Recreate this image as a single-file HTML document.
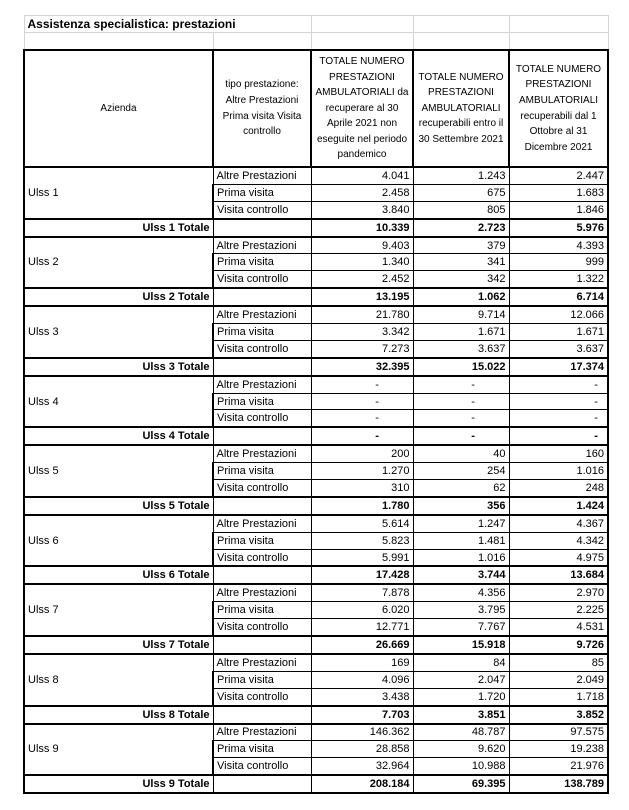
<!DOCTYPE html>
<html><head><meta charset="utf-8"><style>
body{margin:0;background:#fff;width:629px;height:810px;overflow:hidden;font-family:"Liberation Sans",Arial,sans-serif;}
table{position:absolute;left:23px;top:15px;border-collapse:collapse;table-layout:fixed;}
td{padding:0 3px;font-size:11px;line-height:12px;white-space:nowrap;overflow:hidden;border:1px solid #000;height:15.9px;}
td.n{text-align:right;}
tr.g td{border:1px solid #d4d4d4;height:16px;}
tr.h td{text-align:center;white-space:normal;font-size:10px;line-height:15.6px;border:2px solid #000;height:115px;padding:0 1px;}
tr.t td{font-weight:bold;border-top:2px solid #000;border-bottom:2px solid #000;}
tr:not(.g) td:first-child{border-left:2px solid #000;}
tr:not(.g) td:last-child{border-right:2px solid #000;}
tr:last-child td{border-bottom:2px solid #000;}
td.a{vertical-align:middle;}
td.tt{text-align:right;}
</style></head><body>
<table>
<colgroup><col style="width:189px"><col style="width:98px"><col style="width:102px"><col style="width:96px"><col style="width:99px"></colgroup>
<tr class="g"><td style="font-weight:bold;font-size:12px;" colspan="2">Assistenza specialistica: prestazioni</td><td></td><td></td><td></td></tr>
<tr class="g"><td style="height:13px"></td><td style="height:13px"></td><td></td><td></td><td></td></tr>
<tr class="h"><td>Azienda</td><td>tipo prestazione: Altre Prestazioni Prima visita Visita controllo</td><td>TOTALE NUMERO PRESTAZIONI AMBULATORIALI da recuperare al 30 Aprile 2021 non eseguite nel periodo pandemico</td><td>TOTALE NUMERO PRESTAZIONI AMBULATORIALI recuperabili entro il 30 Settembre 2021</td><td>TOTALE NUMERO PRESTAZIONI AMBULATORIALI recuperabili dal 1 Ottobre al 31 Dicembre 2021</td></tr>
<tr><td class="a" rowspan="3">Ulss 1</td><td>Altre Prestazioni</td><td class="n">4.041</td><td class="n">1.243</td><td class="n">2.447</td></tr>
<tr><td>Prima visita</td><td class="n">2.458</td><td class="n">675</td><td class="n">1.683</td></tr>
<tr><td>Visita controllo</td><td class="n">3.840</td><td class="n">805</td><td class="n">1.846</td></tr>
<tr class="t"><td class="tt">Ulss 1 Totale</td><td></td><td class="n">10.339</td><td class="n">2.723</td><td class="n">5.976</td></tr>
<tr><td class="a" rowspan="3">Ulss 2</td><td>Altre Prestazioni</td><td class="n">9.403</td><td class="n">379</td><td class="n">4.393</td></tr>
<tr><td>Prima visita</td><td class="n">1.340</td><td class="n">341</td><td class="n">999</td></tr>
<tr><td>Visita controllo</td><td class="n">2.452</td><td class="n">342</td><td class="n">1.322</td></tr>
<tr class="t"><td class="tt">Ulss 2 Totale</td><td></td><td class="n">13.195</td><td class="n">1.062</td><td class="n">6.714</td></tr>
<tr><td class="a" rowspan="3">Ulss 3</td><td>Altre Prestazioni</td><td class="n">21.780</td><td class="n">9.714</td><td class="n">12.066</td></tr>
<tr><td>Prima visita</td><td class="n">3.342</td><td class="n">1.671</td><td class="n">1.671</td></tr>
<tr><td>Visita controllo</td><td class="n">7.273</td><td class="n">3.637</td><td class="n">3.637</td></tr>
<tr class="t"><td class="tt">Ulss 3 Totale</td><td></td><td class="n">32.395</td><td class="n">15.022</td><td class="n">17.374</td></tr>
<tr><td class="a" rowspan="3">Ulss 4</td><td>Altre Prestazioni</td><td class="n">-&nbsp;&nbsp;&nbsp;&nbsp;&nbsp;&nbsp;&nbsp;&nbsp;&nbsp;&nbsp;</td><td class="n">-&nbsp;&nbsp;&nbsp;&nbsp;&nbsp;&nbsp;&nbsp;&nbsp;&nbsp;&nbsp;</td><td class="n">-&nbsp;&nbsp;</td></tr>
<tr><td>Prima visita</td><td class="n">-&nbsp;&nbsp;&nbsp;&nbsp;&nbsp;&nbsp;&nbsp;&nbsp;&nbsp;&nbsp;</td><td class="n">-&nbsp;&nbsp;&nbsp;&nbsp;&nbsp;&nbsp;&nbsp;&nbsp;&nbsp;&nbsp;</td><td class="n">-&nbsp;&nbsp;</td></tr>
<tr><td>Visita controllo</td><td class="n">-&nbsp;&nbsp;&nbsp;&nbsp;&nbsp;&nbsp;&nbsp;&nbsp;&nbsp;&nbsp;</td><td class="n">-&nbsp;&nbsp;&nbsp;&nbsp;&nbsp;&nbsp;&nbsp;&nbsp;&nbsp;&nbsp;</td><td class="n">-&nbsp;&nbsp;</td></tr>
<tr class="t"><td class="tt">Ulss 4 Totale</td><td></td><td class="n">-&nbsp;&nbsp;&nbsp;&nbsp;&nbsp;&nbsp;&nbsp;&nbsp;&nbsp;&nbsp;</td><td class="n">-&nbsp;&nbsp;&nbsp;&nbsp;&nbsp;&nbsp;&nbsp;&nbsp;&nbsp;&nbsp;</td><td class="n">-&nbsp;&nbsp;</td></tr>
<tr><td class="a" rowspan="3">Ulss 5</td><td>Altre Prestazioni</td><td class="n">200</td><td class="n">40</td><td class="n">160</td></tr>
<tr><td>Prima visita</td><td class="n">1.270</td><td class="n">254</td><td class="n">1.016</td></tr>
<tr><td>Visita controllo</td><td class="n">310</td><td class="n">62</td><td class="n">248</td></tr>
<tr class="t"><td class="tt">Ulss 5 Totale</td><td></td><td class="n">1.780</td><td class="n">356</td><td class="n">1.424</td></tr>
<tr><td class="a" rowspan="3">Ulss 6</td><td>Altre Prestazioni</td><td class="n">5.614</td><td class="n">1.247</td><td class="n">4.367</td></tr>
<tr><td>Prima visita</td><td class="n">5.823</td><td class="n">1.481</td><td class="n">4.342</td></tr>
<tr><td>Visita controllo</td><td class="n">5.991</td><td class="n">1.016</td><td class="n">4.975</td></tr>
<tr class="t"><td class="tt">Ulss 6 Totale</td><td></td><td class="n">17.428</td><td class="n">3.744</td><td class="n">13.684</td></tr>
<tr><td class="a" rowspan="3">Ulss 7</td><td>Altre Prestazioni</td><td class="n">7.878</td><td class="n">4.356</td><td class="n">2.970</td></tr>
<tr><td>Prima visita</td><td class="n">6.020</td><td class="n">3.795</td><td class="n">2.225</td></tr>
<tr><td>Visita controllo</td><td class="n">12.771</td><td class="n">7.767</td><td class="n">4.531</td></tr>
<tr class="t"><td class="tt">Ulss 7 Totale</td><td></td><td class="n">26.669</td><td class="n">15.918</td><td class="n">9.726</td></tr>
<tr><td class="a" rowspan="3">Ulss 8</td><td>Altre Prestazioni</td><td class="n">169</td><td class="n">84</td><td class="n">85</td></tr>
<tr><td>Prima visita</td><td class="n">4.096</td><td class="n">2.047</td><td class="n">2.049</td></tr>
<tr><td>Visita controllo</td><td class="n">3.438</td><td class="n">1.720</td><td class="n">1.718</td></tr>
<tr class="t"><td class="tt">Ulss 8 Totale</td><td></td><td class="n">7.703</td><td class="n">3.851</td><td class="n">3.852</td></tr>
<tr><td class="a" rowspan="3">Ulss 9</td><td>Altre Prestazioni</td><td class="n">146.362</td><td class="n">48.787</td><td class="n">97.575</td></tr>
<tr><td>Prima visita</td><td class="n">28.858</td><td class="n">9.620</td><td class="n">19.238</td></tr>
<tr><td>Visita controllo</td><td class="n">32.964</td><td class="n">10.988</td><td class="n">21.976</td></tr>
<tr class="t"><td class="tt">Ulss 9 Totale</td><td></td><td class="n">208.184</td><td class="n">69.395</td><td class="n">138.789</td></tr>
</table>
</body></html>
